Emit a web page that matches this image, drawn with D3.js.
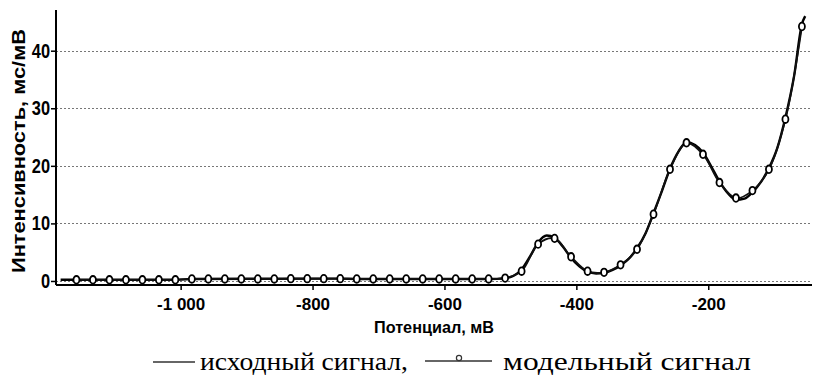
<!doctype html>
<html>
<head>
<meta charset="utf-8">
<script src="https://cdn.jsdelivr.net/npm/d3@7"></script>
<style>
  body { margin: 0; background: #fff; }
  svg { display: block; }
</style>
</head>
<body>
<svg id="chart" width="813" height="384"></svg>
<script>
// model signal, sampled every 25 mV (markers)
const modelX = [-1158, -1133, -1108, -1083, -1058, -1033, -1008, -983, -958, -933,
  -908, -883, -858, -833, -808, -783, -758, -733, -708, -683,
  -658, -633, -608, -583, -558, -533, -508, -483, -458, -433,
  -408, -383, -358, -333, -308, -283, -258, -233, -208, -183,
  -158, -133, -108, -83, -58];
const modelY = [0.2, 0.2, 0.2, 0.2, 0.2, 0.2, 0.2, 0.35, 0.35, 0.35,
  0.35, 0.35, 0.35, 0.4, 0.4, 0.4, 0.4, 0.35, 0.35, 0.35,
  0.35, 0.35, 0.35, 0.35, 0.35, 0.35, 0.5, 1.7, 6.4, 7.4,
  4.2, 1.7, 1.5, 2.8, 5.5, 11.6, 19.4, 24.0, 22.0, 17.1,
  14.4, 15.7, 19.4, 28.1, 44.2];

// source signal
const sourceX = [-1182, -1158, -1008, -983, -758, -733, -533, -508, -495, -483,
  -470, -458, -445, -433, -420, -408, -395, -383, -370, -358,
  -345, -333, -320, -308, -295, -283, -270, -258, -245, -233,
  -220, -208, -195, -183, -170, -158, -145, -133, -120, -108,
  -95, -83, -70, -58, -53];
const sourceY = [0.2, 0.2, 0.2, 0.35, 0.4, 0.35, 0.35, 0.5, 0.9, 2.0,
  4.3, 6.7, 7.9, 7.5, 5.9, 4.0, 2.5, 1.6, 1.3, 1.4,
  1.9, 2.7, 3.9, 5.7, 8.3, 11.8, 15.7, 19.5, 22.5, 24.1,
  23.6, 22.3, 19.8, 17.3, 15.2, 14.1, 14.3, 15.4, 17.2, 19.6,
  23.2, 28.4, 35.5, 44.6, 46.0];

const xTicks = [-1000, -800, -600, -400, -200];
const xTickLabels = ["-1 000", "-800", "-600", "-400", "-200"];
const yTicks = [0, 10, 20, 30, 40];
const xTitle = "Потенциал, мВ";
const yTitle = "Интенсивность, мс/мВ";
const legendLabels = ["исходный сигнал,", "модельный сигнал"];

const plotLeft = 56, plotRight = 812, plotTop = 10, plotBottom = 285;

const x = d3.scaleLinear().domain([-1189, -42.7]).range([plotLeft, plotRight]);
const y = d3.scaleLinear().domain([-0.7, 47.07]).range([plotBottom, plotTop]);

const svg = d3.select("#chart")
    .attr("font-family", "'Liberation Sans', Arial, sans-serif");

// grid
svg.append("g")
  .selectAll("line")
  .data(yTicks)
  .join("line")
    .attr("x1", plotLeft).attr("x2", plotRight)
    .attr("y1", (d) => Math.round(y(d)) + 0.5).attr("y2", (d) => Math.round(y(d)) + 0.5)
    .attr("stroke", "#777")
    .attr("stroke-width", 1)
    .attr("stroke-dasharray", "2,2");

// lines
const source = sourceX.map((v, i) => [v, sourceY[i]]);
const model = modelX.map((v, i) => [v, modelY[i]]);

svg.append("path")
    .datum(source)
    .attr("fill", "none")
    .attr("stroke", "#000")
    .attr("stroke-width", 2.4)
    .attr("d", d3.line().x((d) => x(d[0])).y((d) => y(d[1])).curve(d3.curveMonotoneX));

svg.append("path")
    .datum(model)
    .attr("fill", "none")
    .attr("stroke", "#111")
    .attr("stroke-width", 1.8)
    .attr("d", d3.line().x((d) => x(d[0])).y((d) => y(d[1])).curve(d3.curveCatmullRom));

svg.append("g")
  .selectAll("ellipse")
  .data(model)
  .join("ellipse")
    .attr("cx", (d) => x(d[0]))
    .attr("cy", (d) => y(d[1]))
    .attr("rx", 3)
    .attr("ry", 3.8)
    .attr("fill", "#fff")
    .attr("stroke", "#000")
    .attr("stroke-width", 1.8);

// axes
const yAxis = svg.append("g")
    .attr("transform", `translate(${plotLeft},0)`)
    .call(d3.axisLeft(y).tickValues(yTicks).tickSize(5).tickPadding(6).tickFormat(d3.format("d")));
yAxis.select(".domain").attr("d", `M0,${plotTop}V${plotBottom}`).attr("stroke-width", 2);
yAxis.selectAll(".tick line").attr("stroke-width", 1.5);
yAxis.selectAll(".tick text")
    .attr("font-size", 20)
    .attr("font-weight", "bold")
    .attr("font-family", "'Liberation Sans', Arial, sans-serif")
    .attr("fill", "#000")
    .attr("x", -6 / 0.82)
    .attr("transform", "scale(0.82,1)");

const xAxis = svg.append("g")
    .attr("transform", `translate(0,${plotBottom})`)
    .call(d3.axisBottom(x).tickValues(xTicks).tickSize(5).tickFormat((d, i) => xTickLabels[i]));
xAxis.select(".domain").attr("d", `M${plotLeft},0H${plotRight}`).attr("stroke-width", 2);
xAxis.selectAll(".tick line").attr("stroke-width", 1.5);
xAxis.selectAll(".tick text")
    .attr("font-size", 17)
    .attr("font-weight", "bold")
    .attr("font-family", "'Liberation Sans', Arial, sans-serif")
    .attr("fill", "#000")
    .attr("y", 25)
    .attr("dy", 0);

// titles
svg.append("text")
    .attr("x", 434)
    .attr("y", 333)
    .attr("text-anchor", "middle")
    .attr("font-size", 17)
    .attr("font-weight", "bold")
    .attr("textLength", 120)
    .attr("lengthAdjust", "spacingAndGlyphs")
    .text(xTitle);

svg.append("text")
    .attr("transform", "translate(25,151) rotate(-90)")
    .attr("text-anchor", "middle")
    .attr("font-size", 19)
    .attr("font-weight", "bold")
    .attr("textLength", 244)
    .attr("lengthAdjust", "spacingAndGlyphs")
    .text(yTitle);

// legend
const legend = svg.append("g")
    .attr("font-family", "'Liberation Serif', 'Times New Roman', serif")
    .attr("font-size", 25);

legend.append("line")
    .attr("x1", 153).attr("x2", 195).attr("y1", 362).attr("y2", 362)
    .attr("stroke", "#333").attr("stroke-width", 1.5);
legend.append("text")
    .attr("x", 200).attr("y", 370)
    .attr("textLength", 208)
    .attr("lengthAdjust", "spacingAndGlyphs")
    .text(legendLabels[0]);

legend.append("line")
    .attr("x1", 425).attr("x2", 492).attr("y1", 361).attr("y2", 361)
    .attr("stroke", "#333").attr("stroke-width", 1.5);
legend.append("circle")
    .attr("cx", 459).attr("cy", 358).attr("r", 2.6)
    .attr("fill", "#fff").attr("stroke", "#333").attr("stroke-width", 1.2);
legend.append("text")
    .attr("x", 503).attr("y", 370)
    .attr("textLength", 248)
    .attr("lengthAdjust", "spacingAndGlyphs")
    .text(legendLabels[1]);
</script>
</body>
</html>
